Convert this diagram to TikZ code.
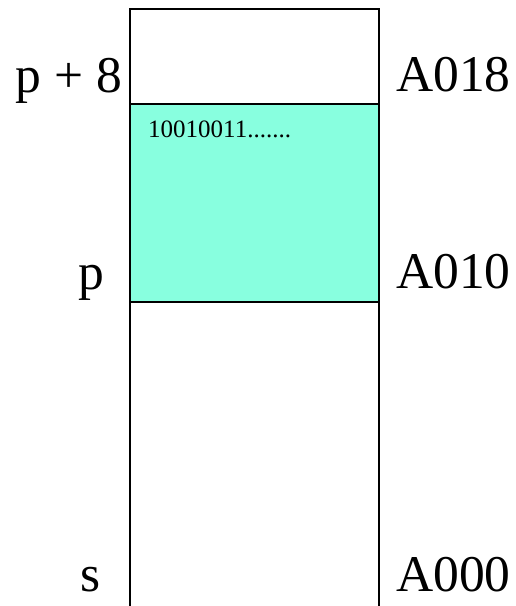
\documentclass[tikz,border=0pt]{standalone}
\usepackage{fontspec}
\setmainfont{Liberation Serif}
\definecolor{aqua}{HTML}{88FFDF}
\begin{document}
\begin{tikzpicture}[x=1pt,y=-1pt,
  big/.style={inner sep=0pt,font=\fontsize{51.5}{51.5}\selectfont},
  small/.style={inner sep=0pt,font=\fontsize{25}{25}\selectfont},
  wall/.style={line width=1.8pt}]
\useasboundingbox (0,0) rectangle (515,606);
\fill[aqua] (130,104) rectangle (379,302);
\coordinate (tl) at (130,9);
\coordinate (tr) at (379,9);
\coordinate (bl) at (130,606);
\coordinate (br) at (379,606);
\coordinate (ml1) at (130,104);
\coordinate (mr1) at (379,104);
\coordinate (ml2) at (130,302);
\coordinate (mr2) at (379,302);
\draw[wall] (bl) -- (tl) -- (tr) -- (br);
\draw[wall] (ml1) -- (mr1);
\draw[wall] (ml2) -- (mr2);
\node[small,anchor=base west] (bits) at (148,137) {10010011.......};
\node[big,anchor=base east] (p8) at (122,92) {p + 8};
\node[big,anchor=base east] (p) at (104,289) {p};
\node[big,anchor=base east] (s) at (101,591) {s};
\node[big,anchor=base west] (a18) at (396,91) {A018};
\node[big,anchor=base west] (a10) at (396,288) {A010};
\node[big,anchor=base west] (a00) at (396,591) {A000};
\end{tikzpicture}
\end{document}
